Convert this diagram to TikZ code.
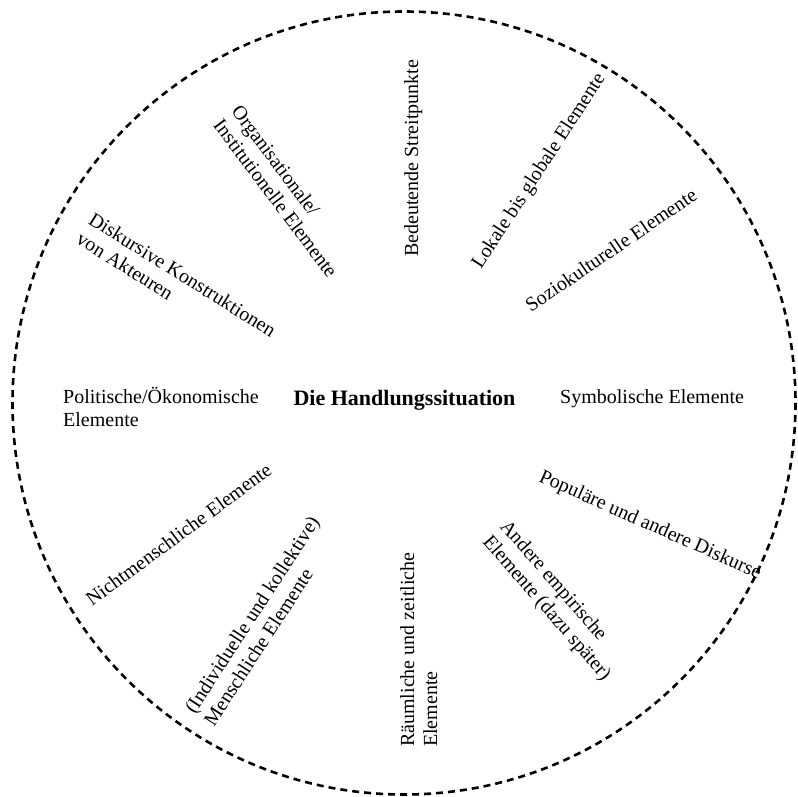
\documentclass[tikz,border=0pt]{standalone}
\usepackage{fontspec}
\setmainfont{Liberation Serif}
\usetikzlibrary{positioning}

\begin{document}
\begin{tikzpicture}[x=1pt, y=-1pt,
  elem/.style = {anchor=base west, inner sep=0pt, align=left, font=\fontsize{20}{23}\selectfont},
  rim/.style = {line width=2.6pt, dash pattern=on 7pt off 5pt}]
          \useasboundingbox (0,0) rectangle (798,797);
          % circle
          \draw[rim] (404,403) circle [radius=391.5];

          % centre
          \node[anchor=base, inner sep=0pt, font=\fontsize{22}{26}\selectfont\bfseries] (situation) at (404.5,405) {Die Handlungssituation};

          % elements (two-line nodes sit on their last line)
          \node[elem, rotate=90] (streit) at (418,257) {Bedeutende Streitpunkte};
          \node[elem, rotate=-53] (orga) at (212.5,125.5) {Organisationale/\\Institutionelle Elemente};
          \node[elem, rotate=57] (lokal) at (481,270) {Lokale bis globale Elemente};
          \node[elem, rotate=34.4] (sozio) at (531,313) {Soziokulturelle Elemente};
          \node[elem, rotate=-32] (diskurs) at (75,242.5) {Diskursive Konstruktionen\\von Akteuren};
          \node[elem] (polit) at (63,426) {Politische/Ökonomische\\Elemente};
          \node[elem] (symbol) at (560,403) {Symbolische Elemente};
          \node[elem, rotate=-24] (popul) at (538,481) {Populäre und andere Diskurse};
          \node[elem, rotate=-49] (empir) at (482,542) {Andere empirische\\Elemente (dazu später)};
          \node[elem, rotate=90] (raum) at (437,747) {Räumliche und zeitliche\\Elemente};
          \node[elem, rotate=57] (mensch) at (214,727.5) {(Individuelle und kollektive)\\Menschliche Elemente};
          \node[elem, rotate=36.5] (nicht) at (92,607) {Nichtmenschliche Elemente};
        \end{tikzpicture}
\end{document}
